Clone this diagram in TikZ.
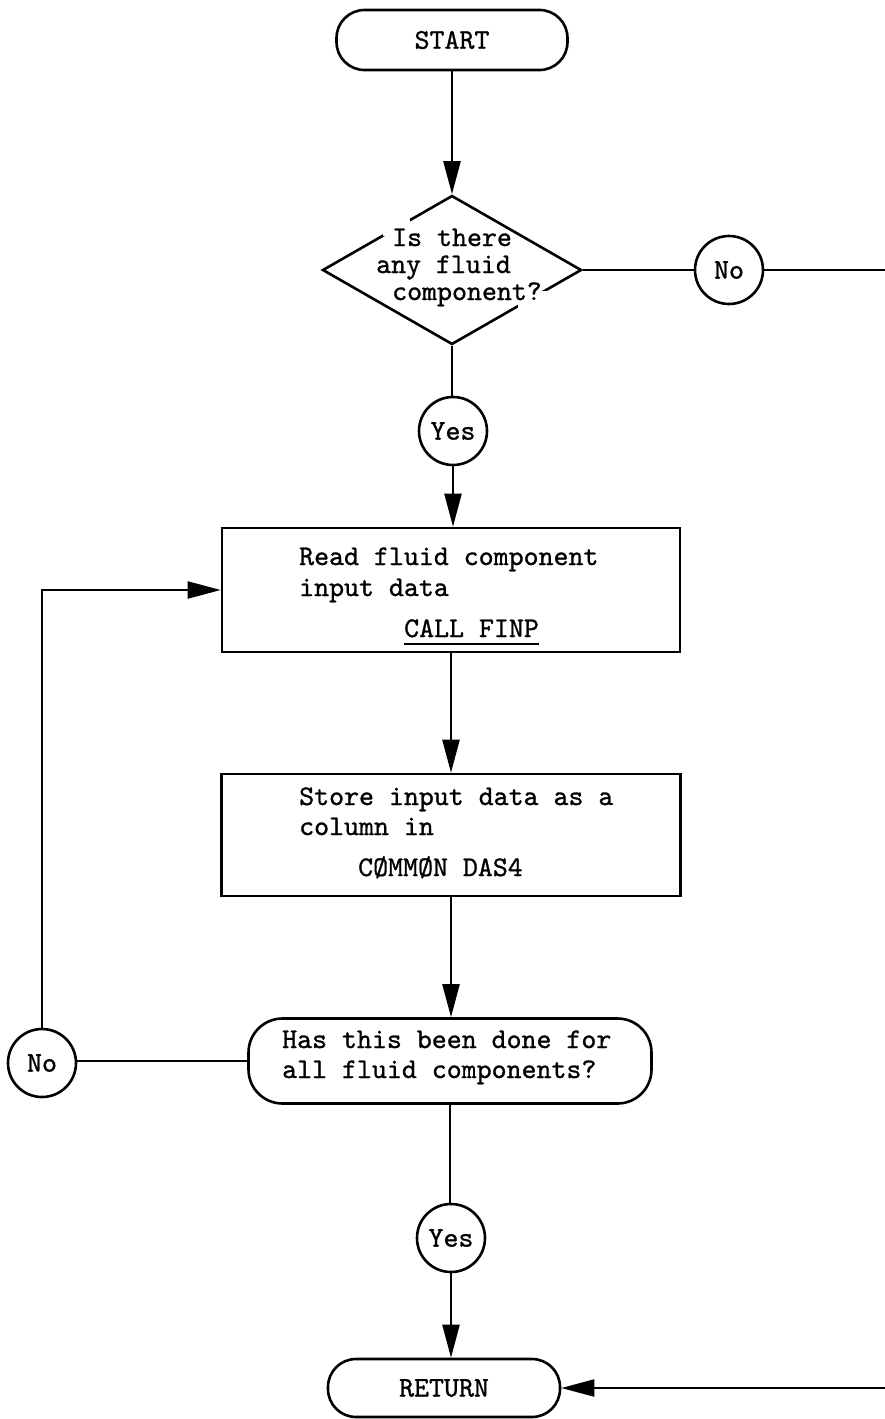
\documentclass[tikz,border=0pt]{standalone}
\usepackage{fontspec}
\newfontfamily\tw{lmmono10-regular.otf}[FakeBold=1.0]
\usetikzlibrary{arrows.meta,shapes.geometric}
\begin{document}
\begin{tikzpicture}[x=1pt,y=-1pt,
  every node/.style={font=\tw\fontsize{28.5}{30}\selectfont},
  shp/.style={draw, line width=2.6pt, inner sep=0pt},
  term/.style={shp, rectangle, rounded corners=28pt, minimum width=231pt, minimum height=60pt},
  proc/.style={shp, rectangle},
  circ/.style={shp, circle, minimum size=68pt},
  txt/.style={inner sep=0pt, anchor=base west},
  con/.style={line width=2.2pt},
  arr/.style={con, -{Triangle[length=33pt,width=17pt]}}
]
\useasboundingbox (0,0) rectangle (885,1419);

% top part
\node[term] (start) at (452,40) {START};
\node[shp, diamond, minimum width=259pt, minimum height=149pt] (q1) at (452,270) {};
% gaps where the typed text crosses the diamond's edges
\fill[white] (383,219) rectangle (410,236);
\fill[white] (518,291) rectangle (548,309);
\node[txt] (q1a) at (392,246) {Is there};
\node[txt] (q1b) at (376,273) {any fluid};
\node[txt] (q1c) at (392,300) {component?};
\node[circ] (no1) at (729,270) {No};
\coordinate (redge) at (885,270);
\node[circ] (yes1) at (453,431) {Yes};

% process boxes
\node[proc, minimum width=458pt, minimum height=124pt] (b1) at (451,590) {};
\node[txt] (b1a) at (299,565) {Read fluid component};
\node[txt] (b1b) at (299,596) {input data};
\node[txt] (b1c) at (404,637) {CALL FINP};
\draw[line width=2pt] ([yshift=-7pt]b1c.base west) -- ([yshift=-7pt]b1c.base east);

\node[proc, minimum width=459pt, minimum height=122pt] (b2) at (451,835) {};
\node[txt] (b2a) at (299,805) {Store input data as a};
\node[txt] (b2b) at (299,835) {column in};
\node[txt] (b2c) at (358,876) {CØMMØN DAS4};

% second decision
\node[shp, rectangle, rounded corners=34pt, minimum width=403pt, minimum height=85pt] (q2) at (450,1061) {};
\node[txt] (q2a) at (282,1048) {Has this been done for};
\node[txt] (q2b) at (282,1078) {all fluid components?};
\node[circ] (no2) at (42,1063) {No};
\node[circ] (yes2) at (451,1238) {Yes};
\node[term, minimum width=232pt, minimum height=58pt] (ret) at (444,1388) {RETURN};
\coordinate (rin) at (885,1388);

% connectors
\draw[arr] (start.south) -- (start.south |- q1.north);
\draw[con] (q1.east) -- (no1.west);
\draw[con] (no1.east) -- (redge);
\draw[con] (q1.south) -- (q1.south |- yes1.north);
\draw[arr] (yes1.south) -- (yes1.south |- b1.north);
\draw[arr] (b1.south) -- (b1.south |- b2.north);
\draw[arr] (b2.south) -- (b2.south |- q2.north);
\draw[con] (q2.west) -- (q2.west -| no2.east);
\draw[arr] (no2.north) |- (b1.west);
\draw[con] (q2.south) -- (q2.south |- yes2.north);
\draw[arr] (yes2.south) -- (yes2.south |- ret.north);
\draw[arr] (rin) -- (rin -| ret.east);
\end{tikzpicture}
\end{document}
